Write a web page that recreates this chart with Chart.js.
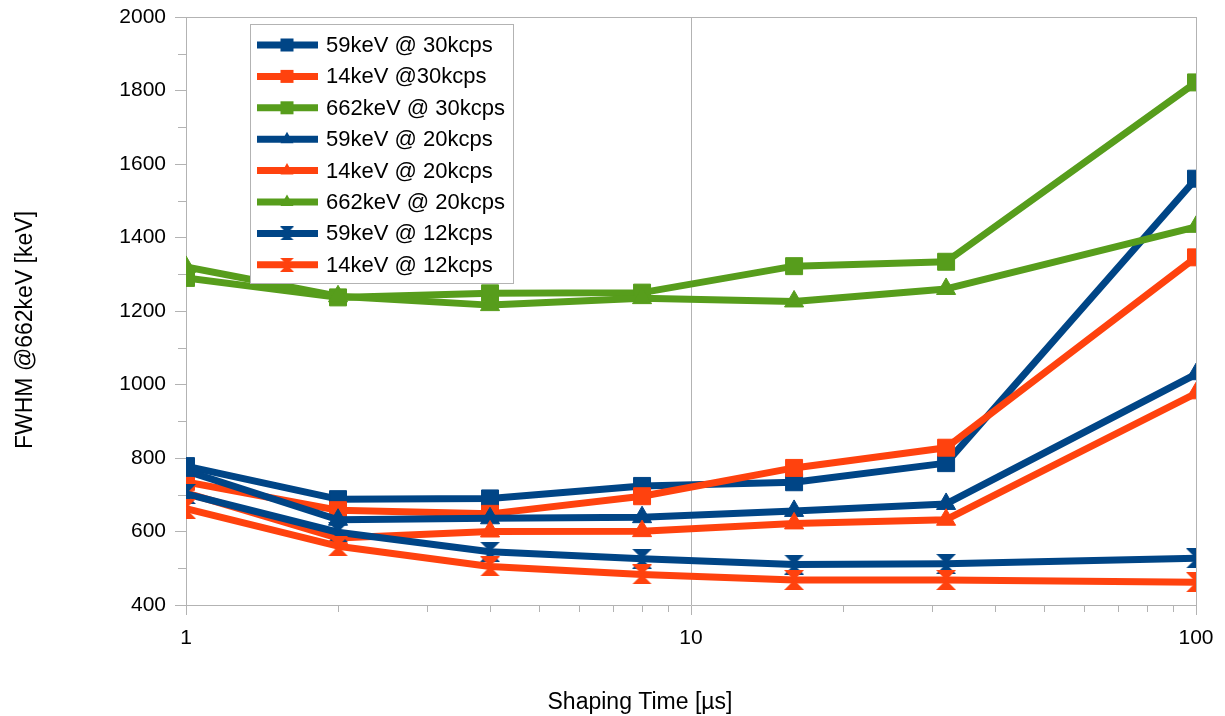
<!DOCTYPE html>
<html><head><meta charset="utf-8">
<script src="https://cdn.jsdelivr.net/npm/chart.js@4/dist/chart.umd.min.js"></script>
<style>html,body{margin:0;padding:0;background:#fff;}canvas{display:block;}</style>
</head><body>
<canvas id="c" width="1225" height="716"></canvas>
<script>
// ---- data ----
const shapingTimes = [1, 2, 4, 8, 16, 32, 100];
const kev59at30  = [778, 688, 690, 724, 734, 786, 1560];
const kev14at30  = [735, 658, 648, 696, 773, 828, 1346];
const kev662at30 = [1290, 1237, 1248, 1250, 1322, 1334, 1822];
const kev59at20  = [765, 632, 636, 639, 656, 675, 1028];
const kev14at20  = [705, 582, 600, 601, 622, 632, 976];
const kev662at20 = [1320, 1240, 1216, 1235, 1226, 1260, 1429];
const kev59at12  = [702, 598, 545, 526, 510, 512, 527];
const kev14at12  = [662, 560, 505, 483, 468, 468, 462];
const seriesNames = ['59keV @ 30kcps', '14keV @30kcps', '662keV @ 30kcps', '59keV @ 20kcps',
  '14keV @ 20kcps', '662keV @ 20kcps', '59keV @ 12kcps', '14keV @ 12kcps'];
const seriesValues = [kev59at30, kev14at30, kev662at30, kev59at20, kev14at20, kev662at20, kev59at12, kev14at12];
const xTickValues = [1, 10, 100];
const yTickMin = 400, yTickMax = 2000, yTickStep = 200;
const xTitle = 'Shaping Time [µs]';
const yTitle = 'FWHM @662keV [keV]';

// ---- styles ----
const BLUE = '#004586', ORANGE = '#ff420e', GREEN = '#579d1c', GRID = '#b3b3b3';
const FONT = '"Liberation Sans", Arial, sans-serif';
const seriesColors = [BLUE, ORANGE, GREEN, BLUE, ORANGE, GREEN, BLUE, ORANGE];
const seriesMarkers = ['rect', 'rect', 'rect', 'triangle', 'triangle', 'triangle', 'hourglass', 'hourglass'];

function hourglass(color, w, h) {
  const c = document.createElement('canvas');
  c.width = w; c.height = h;
  const g = c.getContext('2d');
  g.fillStyle = color;
  g.beginPath(); g.moveTo(0, 0); g.lineTo(w, 0); g.lineTo(w / 2, h / 2); g.closePath(); g.fill();
  g.beginPath(); g.moveTo(0, h); g.lineTo(w, h); g.lineTo(w / 2, h / 2); g.closePath(); g.fill();
  return c;
}
const bigHG = {}, smallHG = {};
[BLUE, ORANGE].forEach(col => { bigHG[col] = hourglass(col, 20, 20); smallHG[col] = hourglass(col, 14, 14); });

function pointStyleFor(i) {
  const m = seriesMarkers[i];
  return m === 'hourglass' ? bigHG[seriesColors[i]] : m;
}

const datasets = seriesNames.map((name, i) => ({
  label: name,
  data: shapingTimes.map((t, k) => ({ x: t, y: seriesValues[i][k] })),
  borderColor: seriesColors[i],
  backgroundColor: seriesColors[i],
  borderWidth: 7,
  borderJoinStyle: 'round',
  pointStyle: pointStyleFor(i),
  pointRadius: seriesMarkers[i] === 'rect' ? 12 : 11,
  pointBorderWidth: 1,
  pointBorderColor: seriesColors[i],
  pointBackgroundColor: seriesColors[i],
  tension: 0,
  order: seriesNames.length - i
}));

const extras = {
  id: 'extras',
  afterDraw(chart) {
    const ctx = chart.ctx, xs = chart.scales.x, ys = chart.scales.y, a = chart.chartArea;
    ctx.save();
    // minor ticks
    ctx.strokeStyle = GRID; ctx.lineWidth = 1;
    ctx.beginPath();
    for (let v = yTickMin + yTickStep / 2; v < yTickMax; v += yTickStep) {
      const py = Math.round(ys.getPixelForValue(v)) + 0.5;
      ctx.moveTo(a.left - 8, py); ctx.lineTo(a.left, py);
    }
    for (let d = 1; d < 100; d *= 10) {
      for (let m = 2; m <= 9; m++) {
        const px = Math.round(xs.getPixelForValue(m * d)) + 0.5;
        ctx.moveTo(px, a.bottom); ctx.lineTo(px, a.bottom + 7);
      }
    }
    ctx.stroke();
    // axis titles
    ctx.fillStyle = '#000';
    ctx.font = '23px ' + FONT;
    ctx.textAlign = 'center'; ctx.textBaseline = 'alphabetic';
    ctx.fillText(xTitle, 640, 709);
    ctx.save();
    ctx.translate(32, 330); ctx.rotate(-Math.PI / 2);
    ctx.fillText(yTitle, 0, 0);
    ctx.restore();
    // legend
    const lx = 250, ly = 24, lw = 263, lh = 259;
    ctx.fillStyle = '#fff';
    ctx.fillRect(lx, ly, lw, lh);
    ctx.strokeStyle = GRID; ctx.lineWidth = 1;
    ctx.strokeRect(lx + 0.5, ly + 0.5, lw, lh);
    ctx.font = '22px ' + FONT;
    ctx.textAlign = 'left'; ctx.textBaseline = 'middle';
    seriesNames.forEach((name, i) => {
      const y = 45 + i * 31.4, col = seriesColors[i];
      ctx.strokeStyle = col; ctx.lineWidth = 7; ctx.lineCap = 'butt';
      ctx.beginPath(); ctx.moveTo(257, y); ctx.lineTo(318, y); ctx.stroke();
      ctx.fillStyle = col;
      const m = seriesMarkers[i];
      if (m === 'rect') {
        ctx.fillRect(287 - 6.5, y - 6.5, 13, 13);
      } else if (m === 'triangle') {
        ctx.beginPath(); ctx.moveTo(287, y - 7.5); ctx.lineTo(293.5, y + 4); ctx.lineTo(280.5, y + 4); ctx.closePath(); ctx.fill();
      } else {
        ctx.drawImage(smallHG[col], 287 - 7, y - 7);
      }
      ctx.fillStyle = '#000';
      ctx.fillText(name, 326, y + 1);
    });
    ctx.restore();
  }
};

new Chart(document.getElementById('c'), {
  type: 'line',
  data: { datasets },
  options: {
    responsive: false,
    animation: false,
    devicePixelRatio: 1,
    layout: { padding: { left: 0, right: 29, top: 17, bottom: 0 } },
    plugins: { legend: { display: false }, tooltip: { enabled: false } },
    scales: {
      x: {
        type: 'logarithmic', min: 1, max: 100,
        afterBuildTicks: s => { s.ticks = xTickValues.map(v => ({ value: v, major: true })); },
        afterFit: s => { s.height = 111; s.paddingLeft = 0; s.paddingRight = 0; },
        ticks: { callback: v => String(v), color: '#000', font: { size: 21, family: FONT }, padding: 11, maxRotation: 0, autoSkip: false },
        grid: { color: GRID, tickColor: GRID, tickLength: 10, lineWidth: 1 },
        border: { display: true, color: GRID, width: 1 }
      },
      y: {
        type: 'linear', min: yTickMin, max: yTickMax,
        afterFit: s => { s.width = 186; s.paddingTop = 0; s.paddingBottom = 0; },
        ticks: { stepSize: yTickStep, callback: v => String(v), color: '#000', font: { size: 21, family: FONT }, padding: 9 },
        grid: { color: c => (c.tick && c.tick.value === yTickMax) ? GRID : 'rgba(0,0,0,0)', tickColor: GRID, tickLength: 11, lineWidth: 1 },
        border: { display: true, color: GRID, width: 1 }
      }
    }
  },
  plugins: [extras]
});
</script>
</body></html>
